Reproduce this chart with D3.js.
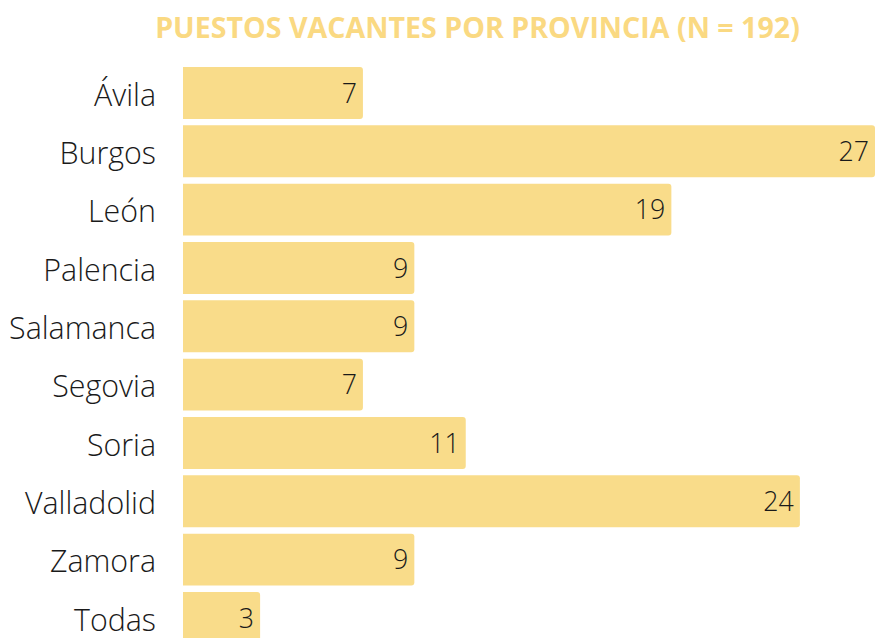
<!DOCTYPE html>
<html><head><meta charset="utf-8">
<script src="https://cdn.jsdelivr.net/npm/d3@7"></script>
<style>html,body{margin:0;padding:0;background:#fff;}svg{display:block;}</style>
</head><body>
<svg id="chart" width="875" height="638"></svg>
<script>
const categories = ["Ávila","Burgos","León","Palencia","Salamanca","Segovia","Soria","Valladolid","Zamora","Todas"];
const values = [7,27,19,9,9,7,11,24,9,3];
const title = "PUESTOS VACANTES POR PROVINCIA (N = 192)";

const W = 875, H = 638;
const svg = d3.select("#chart");
const font = "'Open Sans', 'DejaVu Sans', sans-serif";
const barColor = "#f9dc8a";
const titleColor = "#fad982";
const textColor = "#1a1a1a";

const x = d3.scaleLinear().domain([0, 27]).range([183, 877]);
const y = d3.scaleBand().domain(categories).range([60.6, 650.3]).padding(0.11);

function barPath(x0, x1, y0, h, r) {
  const p = d3.path();
  p.moveTo(x0, y0);
  p.lineTo(x1 - r, y0);
  p.arcTo(x1, y0, x1, y0 + r, r);
  p.lineTo(x1, y0 + h - r);
  p.arcTo(x1, y0 + h, x1 - r, y0 + h, r);
  p.lineTo(x0, y0 + h);
  p.closePath();
  return p.toString();
}

const data = categories.map((c, i) => ({c, v: values[i]}));

svg.selectAll("path.bar").data(data).join("path")
  .attr("class", "bar")
  .attr("fill", barColor)
  .attr("d", d => barPath(x(0), Math.min(x(d.v), W), y(d.c), y.bandwidth(), 3));

const labels = svg.selectAll("text.cat").data(data).join("text")
  .attr("class", "cat")
  .attr("x", 156)
  .attr("y", d => y(d.c) + y.bandwidth() / 2)
  .attr("dy", "0.42em")
  .attr("text-anchor", "end")
  .attr("font-family", font)
  .attr("font-weight", 300)
  .attr("font-size", 25)
  .attr("fill", textColor)
  .text(d => d.c);

const sal = labels.filter(d => d.c === "Salamanca").node();
const lw = sal.getComputedTextLength();
const ls = 25 * 147 / lw;
labels.attr("font-size", ls);

const vals = svg.selectAll("text.val").data(data).join("text")
  .attr("class", "val")
  .attr("x", d => Math.min(x(d.v), W) - 6)
  .attr("y", d => y(d.c) + y.bandwidth() / 2)
  .attr("dy", "0.36em")
  .attr("text-anchor", "end")
  .attr("font-family", font)
  .attr("font-weight", 300)
  .attr("font-size", ls * 0.88)
  .attr("fill", textColor)
  .text(d => d.v);

const t = svg.append("text")
  .attr("x", 477.5)
  .attr("y", 38)
  .attr("text-anchor", "middle")
  .attr("font-family", font)
  .attr("font-weight", 700)
  .attr("font-size", 24)
  .attr("fill", titleColor)
  .text(title);
const tw = t.node().getComputedTextLength();
t.attr("font-size", 24 * 645 / tw);
</script>
</body></html>
